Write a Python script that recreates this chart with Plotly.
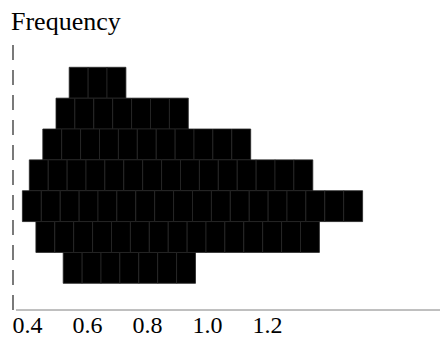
import plotly.graph_objects as go

# Each row of the stepped histogram: left edge (x value) and number of unit cells,
# listed from the top row down to the bottom row.
row_left_edge = [0.539, 0.495, 0.451, 0.406, 0.383, 0.428, 0.519]
row_cell_count = [3, 7, 11, 15, 18, 15, 7]
cell_width = 0.063

tick_values = [0.4, 0.6, 0.8, 1.0, 1.2]
tick_labels = ["0.4", "0.6", "0.8", "1.0", "1.2"]

n_rows = len(row_left_edge)
cell_x, cell_base = [], []
for r, (left, count) in enumerate(zip(row_left_edge, row_cell_count)):
    level = n_rows - 1 - r
    for i in range(count):
        cell_x.append(left + (i + 0.5) * cell_width)
        cell_base.append(level)

fig = go.Figure(
    go.Bar(
        x=cell_x,
        y=[1] * len(cell_x),
        base=cell_base,
        width=[cell_width] * len(cell_x),
        marker=dict(color="#000000", line=dict(color="#262626", width=0.8)),
        hoverinfo="skip",
    )
)

serif = "'Liberation Serif', 'Times New Roman', serif"

fig.update_layout(
    width=440,
    height=339,
    margin=dict(l=13, r=0, t=41, b=29),
    paper_bgcolor="white",
    plot_bgcolor="white",
    showlegend=False,
    barmode="overlay",
    xaxis=dict(
        range=[0.35167, 1.775],
        tickvals=tick_values,
        ticktext=tick_labels,
        tickfont=dict(family=serif, size=24, color="#000000"),
        ticks="",
        ticklabelstandoff=-2,
        showgrid=False,
        zeroline=False,
        showline=False,
        automargin=False,
    ),
    yaxis=dict(
        range=[-0.865, 7.852],
        visible=False,
        automargin=False,
    ),
    shapes=[
        # dashed vertical axis
        dict(type="line", xref="paper", yref="paper", x0=0, x1=0, y0=0, y1=1,
             line=dict(color="#333333", width=1.3, dash="15px,10px")),
        # horizontal axis line
        dict(type="line", xref="paper", yref="paper", x0=0.007, x1=1, y0=0, y1=0,
             line=dict(color="#808080", width=1)),
    ],
    annotations=[
        dict(text="Frequency", xref="paper", yref="paper", x=0, y=1,
             xanchor="left", yanchor="bottom", xshift=-4, yshift=3,
             showarrow=False, font=dict(family=serif, size=26, color="#000000")),
    ],
)

fig.write_html("out.html")
